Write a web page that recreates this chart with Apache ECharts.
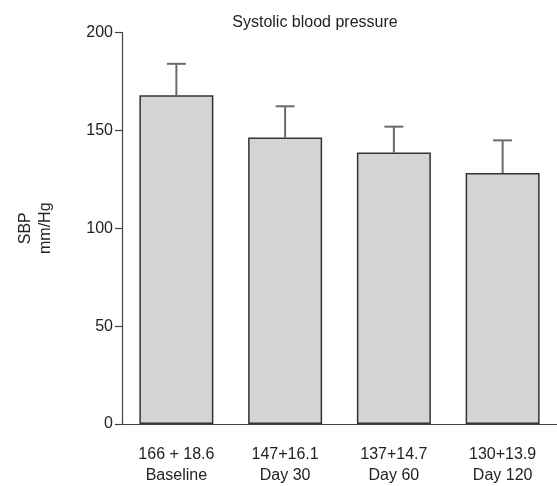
<!DOCTYPE html>
<html>
<head>
<meta charset="utf-8">
<script src="https://cdn.jsdelivr.net/npm/echarts@6/dist/echarts.min.js"></script>
<style>html,body{margin:0;padding:0;background:#fff}#c{width:557px;height:486px}</style>
</head>
<body>
<div id="c"></div>
<script>
var categories = ['Baseline', 'Day 30', 'Day 60', 'Day 120'];
var statLabels = ['166 + 18.6', '147+16.1', '137+14.7', '130+13.9'];
var barValues = [168, 146.3, 138.7, 128.2];
var errorTops = [184, 162.3, 151.9, 144.9];
var yTicks = [0, 50, 100, 150, 200];

var font = '"Liberation Sans", Arial, sans-serif';
var chart = echarts.init(document.getElementById('c'));
var xLabels = categories.map(function (c, i) { return statLabels[i] + '\n' + c; });
chart.setOption({
  animation: false,
  title: {
    text: 'Systolic blood pressure',
    left: 310, top: 10, textAlign: 'center',
    textStyle: { fontFamily: font, fontSize: 16, fontWeight: 'normal', color: '#222' }
  },
  grid: { left: 122, right: 0, top: 32.5, bottom: 59.5 },
  xAxis: {
    type: 'category',
    data: xLabels,
    axisLine: { lineStyle: { color: '#444', width: 1.2 } },
    axisTick: { alignWithLabel: true, length: 11, lineStyle: { color: '#444', width: 1.2 } },
    axisLabel: { fontFamily: font, fontSize: 16, color: '#222', lineHeight: 21, margin: 20 }
  },
  yAxis: {
    type: 'value',
    min: yTicks[0], max: yTicks[yTicks.length - 1], interval: 50,
    name: 'SBP\nmm/Hg',
    nameLocation: 'middle', nameRotate: 90, nameGap: 66,
    nameTextStyle: { fontFamily: font, fontSize: 16, color: '#222', lineHeight: 20 },
    axisLine: { show: true, lineStyle: { color: '#444', width: 1.2 } },
    axisTick: { show: true, length: 7, lineStyle: { color: '#444', width: 1.2 } },
    axisLabel: { fontFamily: font, fontSize: 16, color: '#222', margin: 9 },
    splitLine: { show: false }
  },
  series: [
    {
      type: 'bar',
      data: barValues,
      barWidth: 74,
      itemStyle: { color: '#d3d4d6', borderColor: '#333', borderWidth: 1.5 },
      z: 2
    },
    {
      type: 'custom',
      data: errorTops.map(function (t, i) { return [i, barValues[i], t]; }),
      renderItem: function (params, api) {
        var x = api.value(0);
        var lo = api.coord([x, api.value(1)]);
        var hi = api.coord([x, api.value(2)]);
        var hw = 9.5;
        var st = { stroke: '#6a6a6a', lineWidth: 2 };
        return {
          type: 'group',
          children: [
            { type: 'line', shape: { x1: lo[0], y1: lo[1], x2: hi[0], y2: hi[1] }, style: st },
            { type: 'line', shape: { x1: hi[0] - hw, y1: hi[1], x2: hi[0] + hw, y2: hi[1] }, style: st }
          ]
        };
      },
      z: 3
    }
  ]
});
</script>
</body>
</html>
